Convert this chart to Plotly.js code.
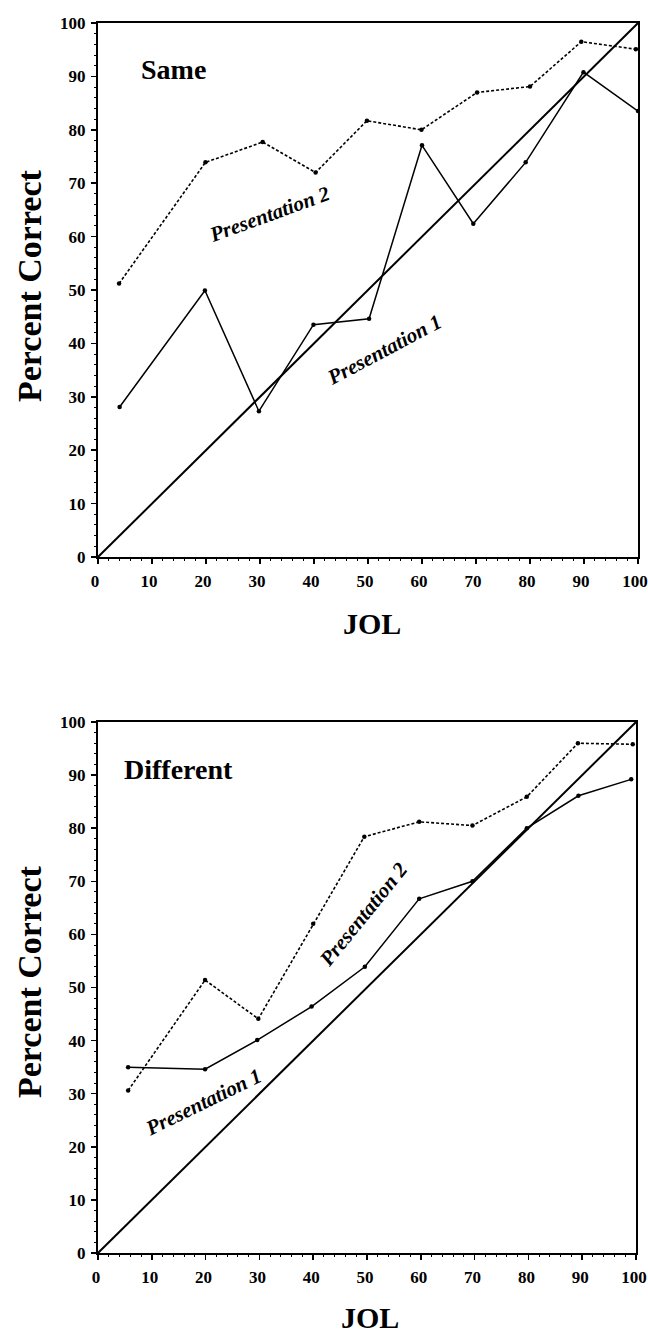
<!DOCTYPE html>
<html>
<head>
<meta charset="utf-8">
<script src="https://cdn.plot.ly/plotly-3.0.1.min.js"></script>
<style>html,body{margin:0;padding:0;background:#fff;}#chart{width:648px;height:1334px;}</style>
</head>
<body>
<div id="chart"></div>
<script>
// ---- data ----
const diagX = [0, 100];
const diagY = [0, 100];

// Panel "Same"
const sameP1X = [4.0, 19.8, 29.8, 39.9, 50.2, 60.0, 69.5, 79.2, 89.9, 100];
const sameP1Y = [28.1, 49.9, 27.3, 43.5, 44.6, 77.1, 62.4, 73.9, 90.8, 83.5];
const sameP2X = [3.9, 19.9, 30.5, 40.3, 49.8, 59.9, 70.2, 80.0, 89.5, 99.6];
const sameP2Y = [51.2, 73.9, 77.7, 72.0, 81.7, 80.0, 87.0, 88.1, 96.5, 95.1];

// Panel "Different"
const diffP1X = [5.6, 19.9, 29.6, 39.7, 49.6, 59.7, 69.6, 79.7, 89.3, 99.1];
const diffP1Y = [35.0, 34.6, 40.1, 46.4, 53.9, 66.7, 70.0, 80.0, 86.1, 89.2];
const diffP2X = [5.6, 19.9, 29.8, 40.0, 49.5, 59.7, 69.6, 79.7, 89.2, 99.4];
const diffP2Y = [30.6, 51.4, 44.1, 62.0, 78.4, 81.2, 80.5, 85.9, 96.0, 95.8];

const tickVals = [0, 10, 20, 30, 40, 50, 60, 70, 80, 90, 100];
const tickText = ['0', '10', '20', '30', '40', '50', '60', '70', '80', '90', '100'];
const panelNames = ['Same', 'Different'];
const seriesNames = ['Presentation 1', 'Presentation 2'];
const xTitle = 'JOL';
const yTitle = 'Percent Correct';

// ---- styling ----
const serif = 'Liberation Serif, Times New Roman, serif';
const black = '#000';

function solid(x, y, xa, ya, w) {
  return {x: x, y: y, xaxis: xa, yaxis: ya, type: 'scatter', mode: 'lines+markers',
    line: {color: black, width: w}, marker: {color: black, size: 4.5}, showlegend: false, hoverinfo: 'skip'};
}
function dashed(x, y, xa, ya) {
  return {x: x, y: y, xaxis: xa, yaxis: ya, type: 'scatter', mode: 'lines+markers',
    line: {color: black, width: 1.6, dash: '3px,2px'}, marker: {color: black, size: 4.5}, showlegend: false, hoverinfo: 'skip'};
}
function diag(xa, ya) {
  return {x: diagX, y: diagY, xaxis: xa, yaxis: ya, type: 'scatter', mode: 'lines',
    line: {color: black, width: 2}, showlegend: false, hoverinfo: 'skip'};
}

const data = [
  diag('x', 'y'), solid(sameP1X, sameP1Y, 'x', 'y', 1.5), dashed(sameP2X, sameP2Y, 'x', 'y'),
  diag('x2', 'y2'), solid(diffP1X, diffP1Y, 'x2', 'y2', 1.5), dashed(diffP2X, diffP2Y, 'x2', 'y2')
];

function axis(extra) {
  return Object.assign({
    range: [0, 100], tickmode: 'array', tickvals: tickVals, ticktext: tickText,
    showgrid: false, zeroline: false, showline: true, mirror: true, linecolor: black, linewidth: 2,
    ticks: 'outside', ticklen: 5, tickwidth: 1.5, tickcolor: black,
    tickfont: {family: serif, size: 17, color: black, weight: 'bold'},
    ticklabeloverflow: 'allow',
    minor: {dtick: 2, ticks: 'outside', ticklen: 2, tickwidth: 1, tickcolor: black},
    fixedrange: true
  }, extra);
}

// pixel geometry: plot x 98..638, top panel y 23..557, bottom panel y 722..1253
const H = 1334, W = 648;
const mL = 98, mR = 10, mT = 23, mB = H - 1253;
const plotH = H - mT - mB, plotW = W - mL - mR;
const py = p => (H - mB - p) / plotH;   // pixel y -> paper y
const px = p => (p - mL) / plotW;       // pixel x -> paper x

function note(xref, yref, x, y, text, size, angle, xanchor) {
  return {xref: xref, yref: yref, x: x, y: y, text: text, showarrow: false,
    xanchor: xanchor || 'center', yanchor: 'middle', textangle: angle || 0,
    font: {family: serif, size: size, color: black}};
}

const layout = {
  width: W, height: H, paper_bgcolor: '#fff', plot_bgcolor: '#fff',
  margin: {l: mL, r: mR, t: mT, b: mB},
  xaxis: axis({domain: [0, 1], anchor: 'y', ticklabelstandoff: 3, ticklabelshift: -3}),
  yaxis: axis({domain: [py(557), 1], anchor: 'x', ticklabelstandoff: 2}),
  xaxis2: axis({domain: [0, px(636)], anchor: 'y2', ticklabelstandoff: 3, ticklabelshift: -2}),
  yaxis2: axis({domain: [0, py(722)], anchor: 'x2', ticklabelstandoff: 2}),
  annotations: [
    note('x', 'y', 7.6, 91.3, '<b>' + panelNames[0] + '</b>', 28, 0, 'left'),
    note('x2', 'y2', 4.4, 91.1, '<b>' + panelNames[1] + '</b>', 28, 0, 'left'),

    note('x', 'y', 31.8, 64.3, '<b><i>' + seriesNames[1] + '</i></b>', 21, -20),
    note('x', 'y', 52.9, 38.8, '<b><i>' + seriesNames[0] + '</i></b>', 21, -28),
    note('x2', 'y2', 49.4, 63.8, '<b><i>' + seriesNames[1] + '</i></b>', 21, -51),
    note('x2', 'y2', 19.6, 28.5, '<b><i>' + seriesNames[0] + '</i></b>', 21, -26),

    note('paper', 'paper', px(29), py(286), '<b>' + yTitle + '</b>', 34, -90),
    note('paper', 'paper', px(29), py(982), '<b>' + yTitle + '</b>', 34, -90),
    note('paper', 'paper', px(372), py(623), '<b>' + xTitle + '</b>', 30, 0),
    note('paper', 'paper', px(370), py(1318), '<b>' + xTitle + '</b>', 30, 0)
  ]
};

Plotly.newPlot('chart', data, layout, {staticPlot: true, displayModeBar: false});
</script>
</body>
</html>
